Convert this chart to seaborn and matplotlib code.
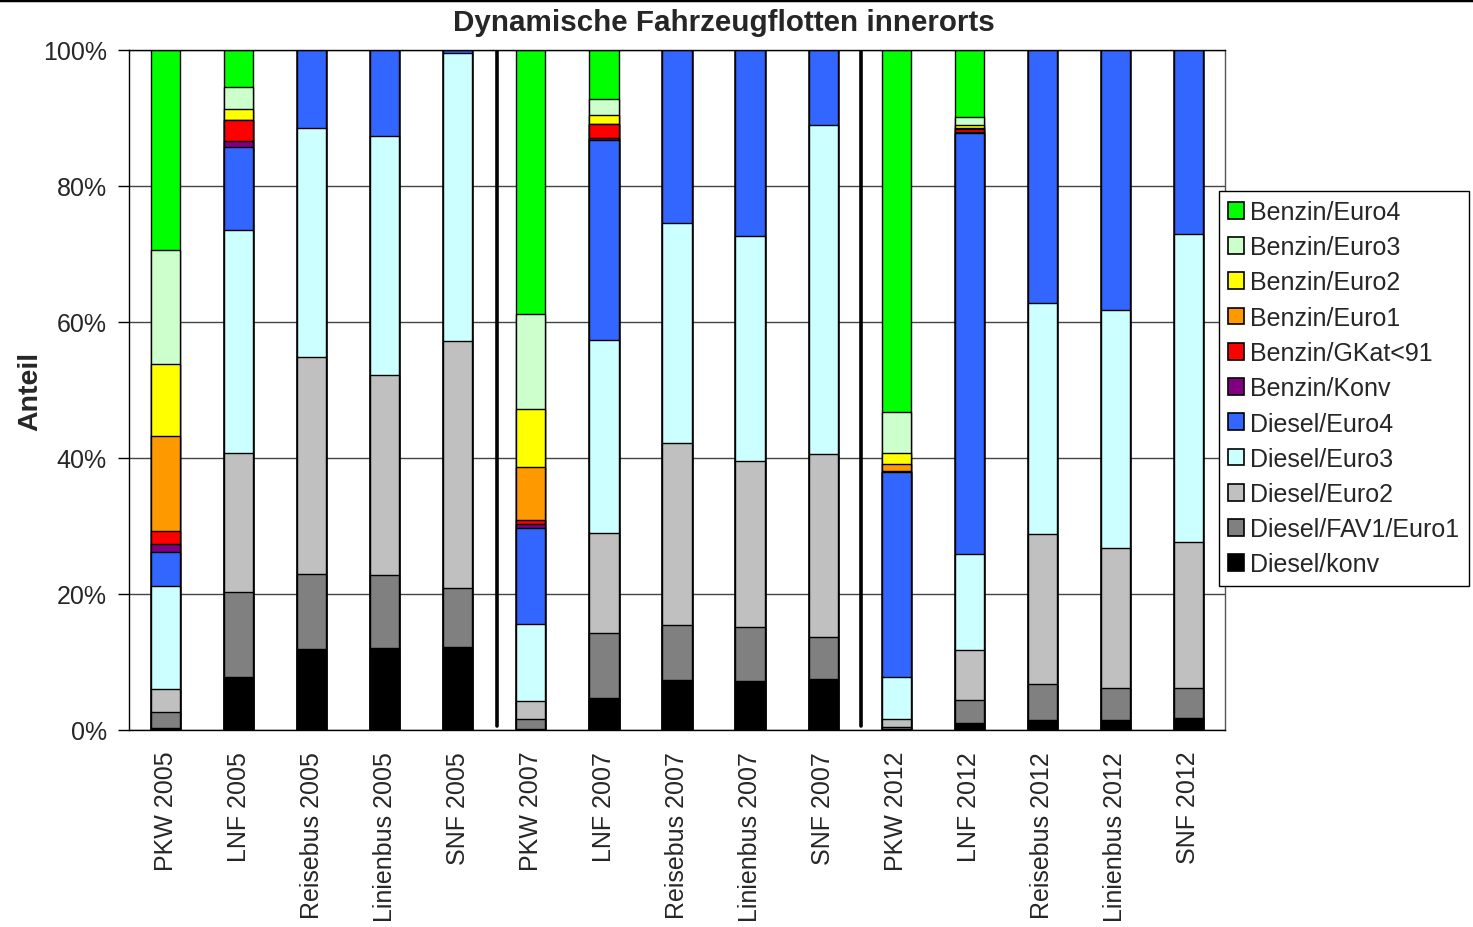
import numpy as np
import pandas as pd
import matplotlib.pyplot as plt
import seaborn as sns
from matplotlib.patches import Patch
from matplotlib.lines import Line2D

# -------------------------------
# Data (shares in %)
# -------------------------------
categories = ["PKW 2005", "LNF 2005", "Reisebus 2005", "Linienbus 2005", "SNF 2005",
              "PKW 2007", "LNF 2007", "Reisebus 2007", "Linienbus 2007", "SNF 2007",
              "PKW 2012", "LNF 2012", "Reisebus 2012", "Linienbus 2012", "SNF 2012"]

# bottom to top
diesel_konv  = [0.3, 7.75, 11.9, 12.05, 12.25, 0.1, 4.7, 7.35, 7.25, 7.55, 0.1, 1.0, 1.5, 1.4, 1.8]
diesel_fav1  = [2.3, 12.55, 11.0, 10.7, 8.65, 1.5, 9.6, 8.05, 7.85, 6.15, 0.3, 3.4, 5.2, 4.8, 4.4]
diesel_euro2 = [3.4, 20.5, 31.9, 29.45, 36.3, 2.7, 14.7, 26.85, 24.4, 26.9, 1.2, 7.4, 22.1, 20.6, 21.4]
diesel_euro3 = [15.2, 32.7, 33.7, 35.1, 42.3, 11.3, 28.35, 32.35, 33.2, 48.3, 6.2, 14.2, 34.0, 35.0, 45.4]
diesel_euro4 = [5.0, 12.3, 11.5, 12.7, 0.5, 14.1, 29.35, 25.4, 27.3, 11.1, 30.1, 62.0, 37.2, 38.2, 27.0]
benzin_konv  = [1.2, 0.8, 0, 0, 0, 0.55, 0.4, 0, 0, 0, 0.1, 0.1, 0, 0, 0]
benzin_gkat  = [1.9, 3.15, 0, 0, 0, 0.7, 2.0, 0, 0, 0, 0.1, 0.4, 0, 0, 0]
benzin_euro1 = [13.9, 0, 0, 0, 0, 7.8, 0, 0, 0, 0, 1.0, 0.2, 0, 0, 0]
benzin_euro2 = [10.6, 1.55, 0, 0, 0, 8.5, 1.3, 0, 0, 0, 1.6, 0.5, 0, 0, 0]
benzin_euro3 = [16.8, 3.3, 0, 0, 0, 14.0, 2.4, 0, 0, 0, 6.0, 1.2, 0, 0, 0]
benzin_euro4 = [29.4, 5.4, 0, 0, 0, 38.8, 7.2, 0, 0, 0, 53.3, 9.8, 0, 0, 0]

series_names = ["Diesel/konv", "Diesel/FAV1/Euro1", "Diesel/Euro2", "Diesel/Euro3",
                "Diesel/Euro4", "Benzin/Konv", "Benzin/GKat<91", "Benzin/Euro1",
                "Benzin/Euro2", "Benzin/Euro3", "Benzin/Euro4"]
series_values = [diesel_konv, diesel_fav1, diesel_euro2, diesel_euro3, diesel_euro4,
                 benzin_konv, benzin_gkat, benzin_euro1, benzin_euro2, benzin_euro3,
                 benzin_euro4]
series_colors = ["#000000", "#808080", "#C0C0C0", "#CCFFFF", "#3366FF", "#800080",
                 "#FF0000", "#FF9900", "#FFFF00", "#CCFFCC", "#00FF00"]

# normalise each bar to 100 %
vals = np.array(series_values, dtype=float)
vals = vals / vals.sum(axis=0) * 100
cum = np.cumsum(vals, axis=0)

df = pd.DataFrame(cum.T, columns=series_names)
df["Kategorie"] = categories

# -------------------------------
# Plot
# -------------------------------
sns.set_style("white")
plt.rcParams["font.family"] = ["Liberation Sans", "DejaVu Sans"]

fig = plt.figure(figsize=(14.73, 9.28), dpi=100)
ax = fig.add_axes([129 / 1473, 1 - 731 / 928, 1096 / 1473, 680 / 928])
ax.set_axisbelow(True)
ax.yaxis.grid(True, color="#444444", linewidth=1.0)

# stacked bars: draw cumulative totals from top layer down
for name, color in reversed(list(zip(series_names, series_colors))):
    sns.barplot(data=df, x="Kategorie", y=name, color=color, saturation=1,
                width=0.4, edgecolor="black", linewidth=1.0, errorbar=None, ax=ax)

# separators between years
for xs in [4.54, 9.52]:
    ax.axvline(xs, ymin=0.006, ymax=1, color="black", linewidth=2.6, zorder=3)

ax.set_xlim(-0.5, 14.5)
ax.set_ylim(0, 100)
ax.set_yticks([0, 20, 40, 60, 80, 100])
ax.set_yticklabels(["0%", "20%", "40%", "60%", "80%", "100%"], fontsize=18)
ax.set_xticks(np.arange(15))
ax.set_xticklabels(categories, rotation=90, fontsize=18)
ax.set_xticks(np.arange(-0.5, 15, 1), minor=True)
ax.tick_params(axis="x", which="major", length=0, pad=15)
ax.tick_params(axis="x", which="minor", length=8, width=1, color="black", direction="out")
ax.tick_params(axis="y", length=8, width=1, color="black", direction="out", pad=8, left=True)
ax.set_xlabel("")
ax.set_ylabel("Anteil", fontsize=20.5, fontweight="bold")
ax.yaxis.set_label_coords(-0.078, 0.5)

for sp in ax.spines.values():
    sp.set_visible(True)
    sp.set_color("black")
    sp.set_linewidth(1.0)
ax.spines["right"].set_color("#555555")

fig.text(723.5 / 1473, 1 - 23 / 928, "Dynamische Fahrzeugflotten innerorts",
         ha="center", va="center", fontsize=21.3, fontweight="bold")

# legend (top to bottom)
handles = [Patch(facecolor=c, edgecolor="black", linewidth=1.2)
           for c in reversed(series_colors)]
fig.legend(handles, list(reversed(series_names)), loc="upper left",
           bbox_to_anchor=(1219 / 1473, 1 - 192 / 928), borderaxespad=0,
           fontsize=18, frameon=True, fancybox=False, edgecolor="black",
           framealpha=1, handlelength=0.65, handleheight=0.65,
           handletextpad=0.25, labelspacing=0.45, borderpad=0.36)

fig.add_artist(Line2D([0, 1], [0.999, 0.999], color="black", linewidth=2.5,
                      transform=fig.transFigure))

fig.savefig("out.png", dpi=100)
